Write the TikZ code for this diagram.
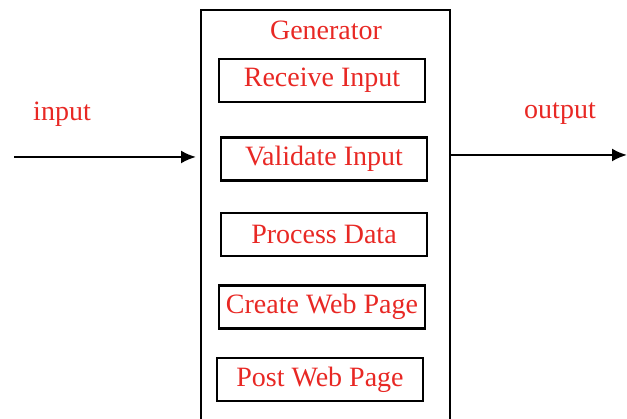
\documentclass[tikz,border=0pt]{standalone}
\usepackage{fontspec}
\setmainfont{Liberation Serif}
\usepackage{xcolor}
\usepackage{tikz}
\usetikzlibrary{positioning, calc, arrows.meta}
\definecolor{labelred}{RGB}{232,40,36}

\begin{document}
\begin{tikzpicture}[
    x = 1pt, y = 1pt, > = {Latex[length=15pt, width=13pt]},
    font = \fontsize{28}{30}\selectfont,
    block/.style = {
      rectangle, draw, line width = 2pt, inner sep = 0pt
    },
    stage/.style = {
      rectangle, draw, line width = 2.2pt, inner sep = 0pt,
      minimum width = 206, minimum height = 43, text = labelred
    },
    label/.style = {
      text = labelred, inner sep = 0pt
    },
    flow/.style = {
      ->, line width = 2.2pt
    },
    ]

    \useasboundingbox (0,0) rectangle (627,419);
    \clip (0,0) rectangle (627,419);

    % outer generator box, runs off the bottom
    \node  [block, minimum width = 249, minimum height = 430]  (gen)  at (325.5,194)  {};
    \node  [label]  (title)  at (326,389)  {Generator};

    % stages inside the generator
    \node  [stage]  (receive)   at (322,338.5)  {Receive Input};
    \node  [stage]  (validate)  at (324,260)    {Validate Input};
    \node  [stage]  (process)   at (324,184.5)  {Process Data};
    \node  [stage]  (create)    at (322,112)    {Create Web Page};
    \node  [stage]  (post)      at (320,39.5)   {Post Web Page};

    % input and output arrows
    \coordinate  (src)  at (14,262);
    \coordinate  (snk)  at (627,264);
    \node  [label]  (in)   at (62,305)   {input};
    \node  [label]  (out)  at (560,305)  {output};

    \draw  [flow, shorten > = 4pt]  (src)  --  (src -| gen.west);
    \draw  [flow]  (gen.east |- snk)  --  (snk);

\end{tikzpicture}
\end{document}
